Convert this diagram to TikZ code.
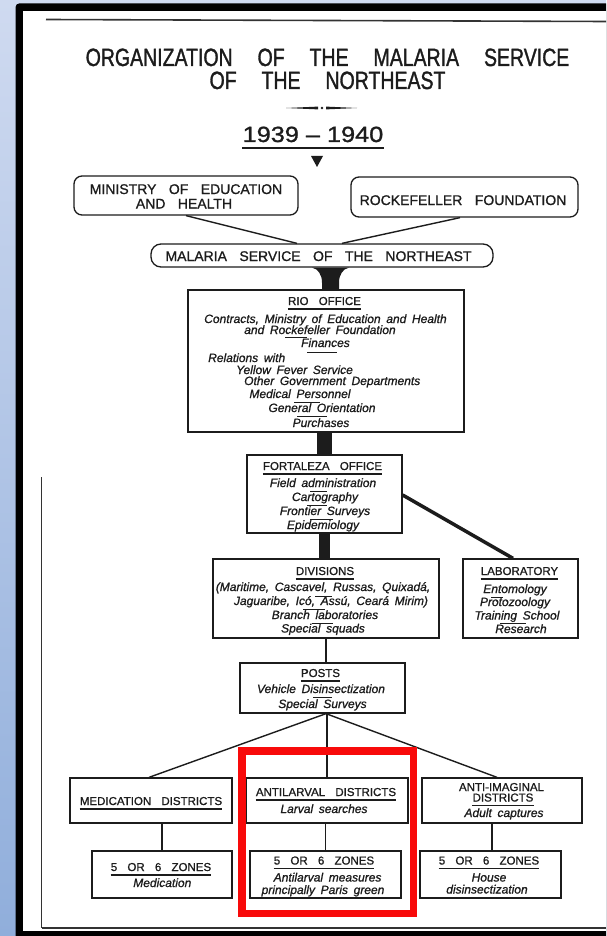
\documentclass[tikz,border=0pt]{standalone}
\usepackage{fontspec}
\setmainfont{Liberation Sans}
\newfontfamily\titlefont[FakeStretch=0.78,WordSpace=4.6,FakeBold=1.2]{Liberation Sans}
\newfontfamily\yearfont[FakeStretch=1.15,FakeBold=1.2]{Liberation Sans}
\newfontfamily\capsfont[WordSpace=3.2,FakeBold=1]{Liberation Sans}
\newfontfamily\itfont[WordSpace=1.7,FakeBold=1]{Liberation Sans Italic}
\usetikzlibrary{calc}
\definecolor{ink}{HTML}{1C1C1C}
\definecolor{bgtop}{HTML}{CFDAF0}
\definecolor{bgbot}{HTML}{90AEDB}
\definecolor{hlred}{HTML}{F80A0A}
\tikzset{
  box/.style={draw=ink, line width=1.3pt, fill=white, inner sep=0pt},
  rbox/.style={box, rounded corners=8pt},
  titletext/.style={inner sep=0pt, anchor=base, text=ink, font=\titlefont\fontsize{25}{28}\selectfont},
  captext/.style={inner sep=0pt, anchor=base, text=ink, font=\capsfont\fontsize{11.5}{13}\selectfont},
  bigcap/.style={captext, font=\capsfont\fontsize{14}{16}\selectfont},
  itl/.style={inner sep=0pt, anchor=base, text=ink, font=\itfont\fontsize{12}{14}\selectfont},
  itlw/.style={itl, anchor=base west},
  uline/.style={draw=ink, line width=1.2pt},
  sepline/.style={draw=ink, line width=1pt},
  conn/.style={draw=ink, line width=1.4pt},
  heavy/.style={draw=ink, line width=#1},
  frameline/.style={draw=ink!90, line width=1.6pt},
  highlight/.style={draw=hlred, line width=7.5pt}
}
\newcommand\ulnode[2][4]{\draw[uline] ([yshift=-#1pt]#2.base west) -- ([yshift=-#1pt]#2.base east);}
\newcommand\sepat[3]{\draw[sepline] (#2,#1) -- (#3,#1);}
\begin{document}
\begin{tikzpicture}[x=1pt,y=-1pt]
\useasboundingbox (0,0) rectangle (606,936);
\clip (0,0) rectangle (606,936);
% background and frame
\shade[top color=bgtop, bottom color=bgbot] (0,0) rectangle (606,936);
\fill[black, rounded corners=4pt] (15.5,3.3) rectangle (660,960);
\fill[white] (23.3,10.8) rectangle (660,931);
\draw[frameline] (46,19.5) -- (606,21.5);
\draw[frameline] (41.5,477) -- (41.5,928);
\draw[frameline] (41.5,928) -- (606,928);

% title
\node[titletext] (t1) at (327.5,66) {ORGANIZATION OF THE MALARIA SERVICE};
\node[titletext] (t2) at (327.5,89) {OF THE NORTHEAST};
\fill[ink] (286,108) -- (318,106.6) -- (318,109.4) -- cycle;
\fill[ink] (326,106.6) -- (357,108) -- (326,109.4) -- cycle;
\fill[ink] (322,108) circle (1.4);
\node[inner sep=0pt, anchor=base, text=ink, font=\yearfont\fontsize{22}{24}\selectfont] (year) at (313,142) {1939 – 1940};
\draw[uline, line width=1.5pt] ([yshift=-6pt]year.base west) -- ([yshift=-6pt]year.base east);
\fill[ink] (311,156) -- (323,156) -- (317,167) -- cycle;

% top boxes
\node[rbox, minimum width=224pt, minimum height=39pt] (ministry) at (186,195.5) {};
\node[bigcap] (min1) at (186,194) {MINISTRY OF EDUCATION};
\node[bigcap] (min2) at (184,208.5) {AND HEALTH};
\node[rbox, minimum width=227pt, minimum height=40pt] (rockefeller) at (464.5,197) {};
\node[bigcap] (rock1) at (463,205) {ROCKEFELLER FOUNDATION};
\node[box, rounded corners=10pt, minimum width=342pt, minimum height=23pt] (malaria) at (322,255.5) {};
\node[bigcap] (mal1) at (318.5,261) {MALARIA SERVICE OF THE NORTHEAST};
\draw[conn] (ministry.south) -- ([xshift=-25pt]malaria.north);
\draw[conn] ([xshift=-4.5pt]rockefeller.south) -- ([xshift=20pt]malaria.north);

% Rio office
\node[box, minimum width=276pt, minimum height=142pt] (rio) at (326,361) {};
\fill[ink] ($(malaria.south)+(-10,0)$) .. controls ($(malaria.south)+(-4,1)$) and ($(malaria.south)+(0,7)$) .. ($(malaria.south)+(0,15)$)
  -- ($(rio.north)+(-4,0)$) -- ($(rio.north)+(13,0)$) -- ($(malaria.south)+(17,15)$)
  .. controls ($(malaria.south)+(17,7)$) and ($(malaria.south)+(21,1)$) .. ($(malaria.south)+(27,0)$) -- cycle;
\node[captext] (rioh) at (324.5,305) {RIO OFFICE};
\ulnode{rioh}
\node[itl] (rio1) at (325.5,323) {Contracts, Ministry of Education and Health};
\node[itl] (rio2) at (320,334) {and Rockefeller Foundation};
\node[itl] (rio3) at (325.5,347) {Finances};
\node[itlw] (rio4) at (208,362) {Relations with};
\node[itlw] (rio5) at (236,374) {Yellow Fever Service};
\node[itlw] (rio6) at (244,385) {Other Government Departments};
\node[itl] (rio7) at (300,398) {Medical Personnel};
\node[itl] (rio8) at (322,412) {General Orientation};
\node[itl] (rio9) at (321,427) {Purchases};
\sepat{337.5}{285}{307}
\sepat{352}{307}{337}
\sepat{402}{294}{320}
\sepat{416}{297}{327}

% Fortaleza office
\node[box, minimum width=155pt, minimum height=78pt] (fortaleza) at (324.5,494) {};
\draw[heavy=15pt] (rio.south -| fortaleza.north) -- (fortaleza.north);
\node[captext] (forh) at (322.5,470) {FORTALEZA OFFICE};
\ulnode{forh}
\node[itl] (for1) at (323,487) {Field administration};
\node[itl] (for2) at (325,501) {Cartography};
\node[itl] (for3) at (325,515) {Frontier Surveys};
\node[itl] (for4) at (323,529) {Epidemiology};
\sepat{491}{310}{327}
\sepat{505}{307}{327}
\sepat{519}{310}{333}

% Divisions and laboratory
\node[box, minimum width=226pt, minimum height=79pt] (divisions) at (326,598.5) {};
\node[box, minimum width=115pt, minimum height=79pt] (lab) at (520.5,598.5) {};
\draw[heavy=11pt] (fortaleza.south) -- (fortaleza.south |- divisions.north);
\draw[heavy=3.5pt] ([yshift=-1pt]fortaleza.east) -- ([xshift=-7.5pt]lab.north);
\node[captext] (divh) at (325,575) {DIVISIONS};
\ulnode{divh}
\node[itl] (div1) at (323,591) {(Maritime, Cascavel, Russas, Quixadá,};
\node[itl] (div2) at (331,605) {Jaguaribe, Icó, Assú, Ceará Mirim)};
\node[itl] (div3) at (325,619) {Branch laboratories};
\node[itl] (div4) at (323,632.5) {Special squads};
\sepat{596}{315}{332}
\sepat{609.5}{303}{325}
\sepat{623}{312}{333}
\node[captext] (labh) at (519.5,575) {LABORATORY};
\ulnode{labh}
\node[itl] (lab1) at (515,593) {Entomology};
\node[itl] (lab2) at (515,606) {Protozoology};
\node[itl] (lab3) at (517,619.5) {Training School};
\node[itl] (lab4) at (521,633) {Research};
\sepat{597.5}{491}{503}
\sepat{623}{500}{526}

% Posts
\node[box, minimum width=165pt, minimum height=50pt] (posts) at (322.5,688) {};
\draw[conn] (divisions.south) -- (divisions.south |- posts.north);
\node[captext] (posth) at (320.5,677) {POSTS};
\ulnode{posth}
\node[itl] (post1) at (321,693) {Vehicle Disinsectization};
\node[itl] (post2) at (322.5,708) {Special Surveys};
\sepat{697}{313}{332}

% districts
\node[box, minimum width=162pt, minimum height=45pt] (medication) at (151,800.5) {};
\node[box, minimum width=162pt, minimum height=45pt] (antilarval) at (327,800.5) {};
\node[box, minimum width=160pt, minimum height=45pt] (antiimag) at (502,800.5) {};
\draw[conn] ([xshift=3.5pt]posts.south) -- ([xshift=-2pt]medication.north);
\draw[conn] (posts.south -| antilarval.north) -- (antilarval.north);
\draw[conn] ([xshift=3.5pt]posts.south) -- ([xshift=-5pt]antiimag.north);
\node[captext] (medh) at (151,805) {MEDICATION DISTRICTS};
\ulnode{medh}
\node[captext] (alh) at (326,796) {ANTILARVAL DISTRICTS};
\ulnode{alh}
\node[itl] (al1) at (324,813) {Larval searches};
\node[captext] (aih1) at (501.5,791) {ANTI-IMAGINAL};
\node[captext] (aih2) at (503,801.5) {DISTRICTS};
\ulnode{aih2}
\node[itl] (ai1) at (504,817) {Adult captures};

% zones
\node[box, minimum width=140pt, minimum height=47pt] (z1) at (162,874.5) {};
\node[box, minimum width=151pt, minimum height=47pt] (z2) at (325.5,874.5) {};
\node[box, minimum width=141pt, minimum height=47pt] (z3) at (490.5,874.5) {};
\draw[conn] (z1.north |- medication.south) -- (z1.north);
\draw[conn] (z2.north |- antilarval.south) -- (z2.north);
\draw[conn] ([xshift=1.5pt]z3.north |- antiimag.south) -- ([xshift=1.5pt]z3.north);
\node[captext] (z1h) at (161,871) {5 OR 6 ZONES};
\ulnode{z1h}
\node[itl] (z1a) at (162.3,887) {Medication};
\node[captext] (z2h) at (324,864.5) {5 OR 6 ZONES};
\ulnode{z2h}
\node[itl] (z2a) at (327.6,881.5) {Antilarval measures};
\node[itl] (z2b) at (323,894) {principally Paris green};
\node[captext] (z3h) at (489,864.5) {5 OR 6 ZONES};
\ulnode{z3h}
\node[itl] (z3a) at (489,881.5) {House};
\node[itl] (z3b) at (487,893.5) {disinsectization};

% highlight
\draw[highlight] (241.75,750.75) rectangle (413.25,913.25);
\end{tikzpicture}
\end{document}
